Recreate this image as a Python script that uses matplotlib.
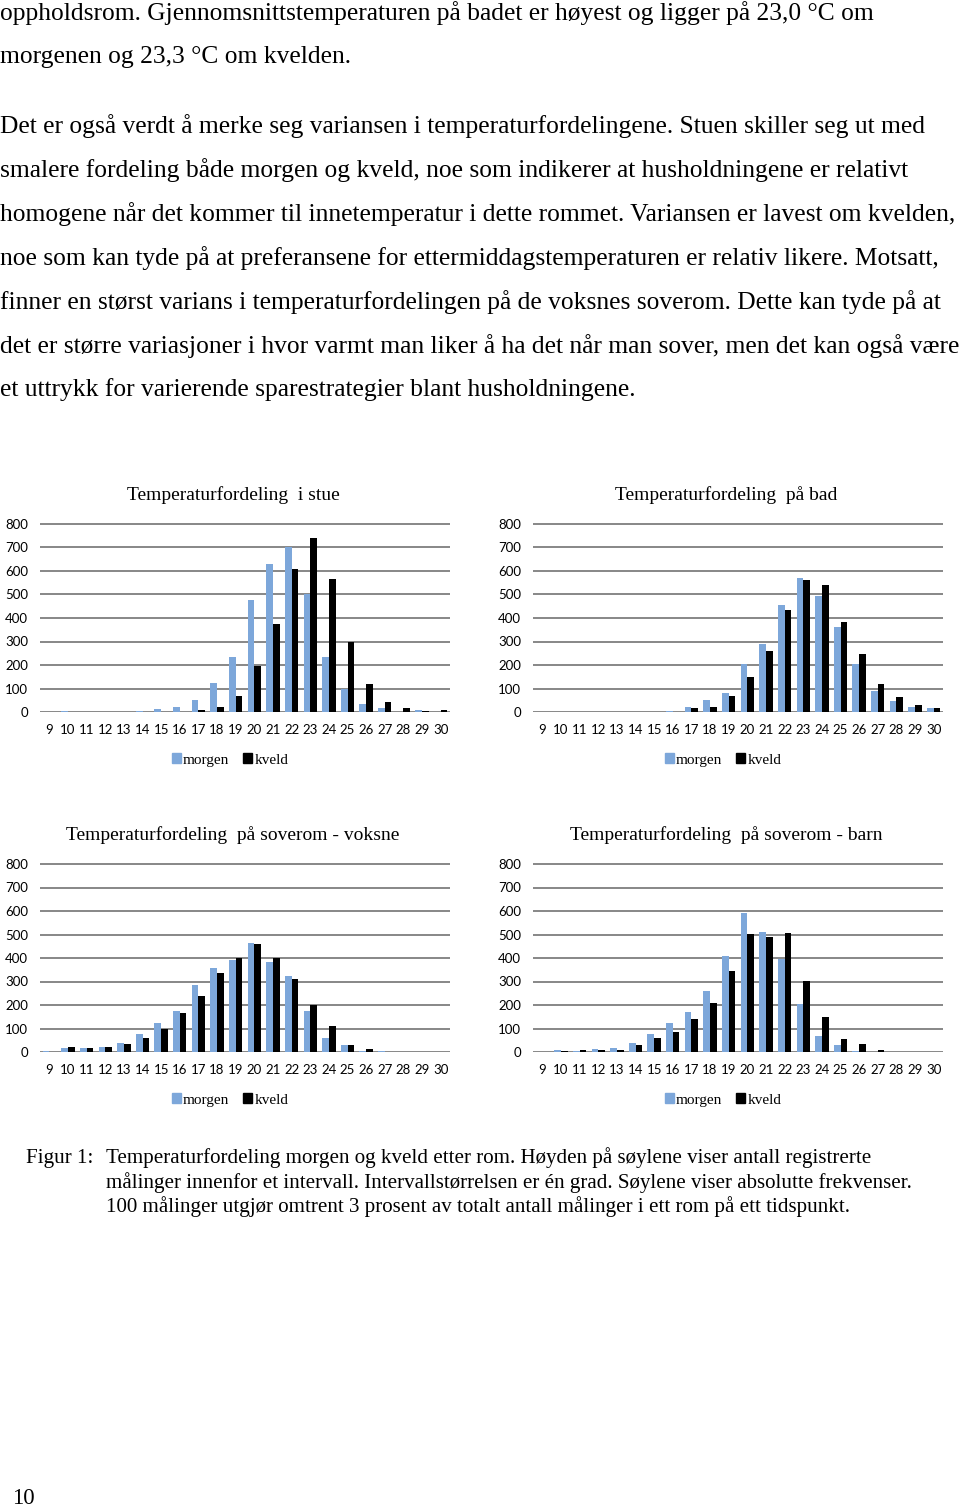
import numpy as np
import matplotlib
matplotlib.use("Agg")
import matplotlib.pyplot as plt
from matplotlib.patches import Patch

W, H = 960, 1511

# ---------------------------------------------------------------------------
# Data (counts per 1-degree interval)
# ---------------------------------------------------------------------------
temps = list(range(9, 31))

stue_morgen = [0, 5, 0, 0, 0, 5, 12, 22, 50, 125, 235, 475, 630, 700, 500, 235, 100, 35, 15, 0, 8, 0]
stue_kveld  = [0, 0, 0, 0, 0, 0, 0, 0, 8, 22, 70, 195, 375, 610, 740, 565, 300, 120, 42, 18, 5, 8]

bad_morgen = [0, 0, 0, 0, 0, 0, 0, 5, 22, 50, 80, 205, 290, 455, 570, 495, 360, 205, 88, 45, 22, 18]
bad_kveld  = [0, 0, 0, 0, 0, 0, 0, 0, 18, 22, 70, 148, 258, 435, 562, 540, 385, 245, 120, 65, 28, 18]

voksne_morgen = [3, 15, 15, 20, 40, 78, 122, 175, 285, 358, 390, 462, 385, 325, 175, 60, 28, 5, 5, 0, 0, 0]
voksne_kveld  = [0, 22, 18, 22, 32, 60, 100, 165, 240, 335, 402, 458, 402, 310, 202, 110, 28, 12, 0, 0, 0, 0]

barn_morgen = [0, 8, 5, 12, 15, 38, 78, 125, 172, 258, 408, 590, 510, 395, 205, 70, 28, 5, 2, 0, 0, 0]
barn_kveld  = [0, 3, 8, 8, 8, 28, 60, 85, 140, 208, 345, 502, 490, 505, 302, 148, 55, 32, 8, 0, 0, 0]

titles = ["Temperaturfordeling  i stue", "Temperaturfordeling  på bad",
          "Temperaturfordeling  på soverom - voksne", "Temperaturfordeling  på soverom - barn"]

body_lines = [
    (13,  "oppholdsrom. Gjennomsnittstemperaturen på badet er høyest og ligger på 23,0 °C om"),
    (57,  "morgenen og 23,3 °C om kvelden."),
    (126, "Det er også verdt å merke seg variansen i temperaturfordelingene. Stuen skiller seg ut med"),
    (170, "smalere fordeling både morgen og kveld, noe som indikerer at husholdningene er relativt"),
    (214, "homogene når det kommer til innetemperatur i dette rommet. Variansen er lavest om kvelden,"),
    (258, "noe som kan tyde på at preferansene for ettermiddagstemperaturen er relativ likere. Motsatt,"),
    (302, "finner en størst varians i temperaturfordelingen på de voksnes soverom. Dette kan tyde på at"),
    (346, "det er større variasjoner i hvor varmt man liker å ha det når man sover, men det kan også være"),
    (390, "et uttrykk for varierende sparestrategier blant husholdningene."),
]

caption_lines = [
    "Temperaturfordeling morgen og kveld etter rom. Høyden på søylene viser antall registrerte",
    "målinger innenfor et intervall. Intervallstørrelsen er én grad. Søylene viser absolutte frekvenser.",
    "100 målinger utgjør omtrent 3 prosent av totalt antall målinger i ett rom på ett tidspunkt.",
]

BLUE = "#7DA7DA"
SERIF = "Liberation Serif"
SANS = "Lato"


def fx(px):
    return px / W


def fy(py):
    return 1 - py / H


fig = plt.figure(figsize=(W / 100, H / 100), dpi=100)

for y, line in body_lines:
    fig.text(fx(0), fy(y), line, family=SERIF, fontsize=18.4, va="center", ha="left")

# ---------------------------------------------------------------------------
# Charts
# ---------------------------------------------------------------------------
panels = [
    (stue_morgen, stue_kveld, 40, 450, 712),
    (bad_morgen, bad_kveld, 533, 943, 712),
    (voksne_morgen, voksne_kveld, 40, 450, 1052),
    (barn_morgen, barn_kveld, 533, 943, 1052),
]

YMAX = 810
px_per_unit = (712 - 524) / 800

for (morgen, kveld, x0, x1, y0), title in zip(panels, titles):
    h_px = YMAX * px_per_unit
    ax = fig.add_axes([fx(x0), fy(y0), (x1 - x0) / W, h_px / H])
    x = np.arange(len(temps))
    ax.bar(x - 0.18, morgen, width=0.36, color=BLUE, zorder=3)
    ax.bar(x + 0.18, kveld, width=0.36, color="black", zorder=3)
    ax.set_xlim(-0.5, len(temps) - 0.5)
    ax.set_ylim(0, YMAX)
    ax.set_yticks(range(0, 801, 100))
    ax.set_xticks(x)
    ax.set_xticklabels([str(t) for t in temps])
    ax.yaxis.grid(True, color="#878787", linewidth=1.4, zorder=0)
    ax.set_axisbelow(True)
    for s in ax.spines.values():
        s.set_visible(False)
    ax.tick_params(length=0, labelsize=9.5)
    ax.tick_params(axis="y", pad=8.5)
    ax.tick_params(axis="x", pad=9)
    for lbl in ax.get_xticklabels() + ax.get_yticklabels():
        lbl.set_family(SANS)

    cx = (x0 + x1) / 2
    fig.text(fx(cx - 12), fy(y0 - 217), title, family=SERIF, fontsize=14,
             ha="center", va="center")
    fig.legend(handles=[Patch(color=BLUE, label="morgen"), Patch(color="black", label="kveld")],
               loc="center", bbox_to_anchor=(fx(cx - 15), fy(y0 + 48)), ncol=2,
               frameon=False, prop={"family": SERIF, "size": 11},
               handlelength=0.6, handleheight=0.6, handletextpad=0.15,
               columnspacing=0.9, borderpad=0)

# ---------------------------------------------------------------------------
# Caption and page number
# ---------------------------------------------------------------------------
fig.text(fx(26), fy(1158), "Figur 1:", family=SERIF, fontsize=15.1, va="center", ha="left")
for i, line in enumerate(caption_lines):
    fig.text(fx(106), fy(1158 + 24.5 * i), line, family=SERIF, fontsize=15.1,
             va="center", ha="left")

fig.text(fx(12), fy(1498), "10", family=SERIF, fontsize=16.5, va="center", ha="left")

fig.savefig("out.png", dpi=100)
